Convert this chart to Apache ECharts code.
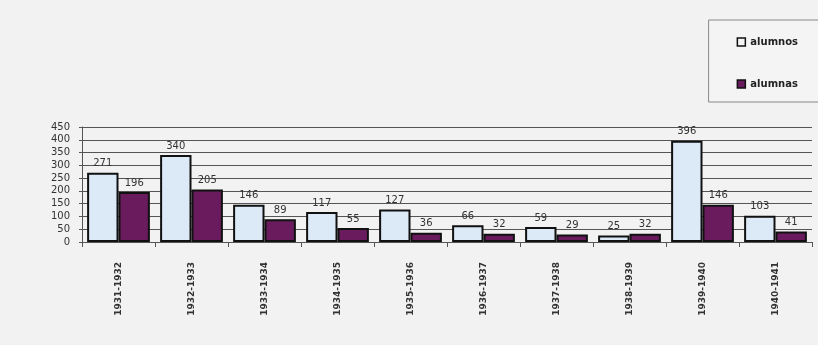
<!DOCTYPE html>
<html>
<head>
<meta charset="utf-8">
<script src="https://cdn.jsdelivr.net/npm/echarts@6/dist/echarts.min.js"></script>
<style>
  html, body { margin: 0; padding: 0; background: #f2f2f2; }
  #chart { width: 818px; height: 345px; }
</style>
</head>
<body>
<div id="chart"></div>
<script>
var cursos = ['1931-1932', '1932-1933', '1933-1934', '1934-1935', '1935-1936',
    '1936-1937', '1937-1938', '1938-1939', '1939-1940', '1940-1941'];
var alumnos = [271, 340, 146, 117, 127, 66, 59, 25, 396, 103];
var alumnas = [196, 205, 89, 55, 36, 32, 29, 32, 146, 41];

var chart = echarts.init(document.getElementById('chart'));

// etiqueta de valor encima de cada barra
var etiqueta = {
    show: true,
    position: 'top',
    distance: 4,
    color: '#333',
    fontSize: 10,
    fontFamily: 'DejaVu Sans'
};

chart.setOption({
    backgroundColor: '#f2f2f2',
    animation: false,
    legend: {
        orient: 'vertical',
        right: -4,
        top: 20,
        padding: [17, 24, 13, 28],
        itemGap: 32,
        itemWidth: 8,
        itemHeight: 8,
        borderColor: '#888',
        borderWidth: 1,
        backgroundColor: '#f4f4f4',
        textStyle: { fontSize: 10, fontWeight: 'bold', color: '#222', fontFamily: 'DejaVu Sans' },
        data: [
            { name: 'alumnos', icon: 'rect', itemStyle: { color: '#f4f4f4', borderColor: '#111', borderWidth: 1.5 } },
            { name: 'alumnas', icon: 'rect', itemStyle: { color: '#6a1b5d', borderColor: '#111', borderWidth: 1.5 } }
        ]
    },
    grid: { left: 82, right: 6, top: 127, bottom: 103 },
    xAxis: {
        type: 'category',
        data: cursos,
        axisLine: { lineStyle: { color: '#555', width: 1 } },
        axisTick: { show: true, length: 5, lineStyle: { color: '#555' } },
        axisLabel: {
            rotate: 90,
            margin: 20,
            fontSize: 9,
            fontWeight: 'bold',
            color: '#333',
            fontFamily: 'DejaVu Sans'
        }
    },
    yAxis: {
        type: 'value',
        min: 0,
        max: 450,
        interval: 50,
        axisLine: { show: true, lineStyle: { color: '#555' } },
        axisTick: { show: true, length: 3, lineStyle: { color: '#555' } },
        axisLabel: { fontSize: 10, color: '#333', margin: 12, fontFamily: 'DejaVu Sans' },
        splitLine: { lineStyle: { color: '#555', width: 1 } }
    },
    series: [
        {
            name: 'alumnos',
            type: 'bar',
            data: alumnos,
            barGap: '0%',
            barCategoryGap: '14%',
            itemStyle: { color: '#dce9f7', borderColor: '#111', borderWidth: 2 },
            label: etiqueta
        },
        {
            name: 'alumnas',
            type: 'bar',
            data: alumnas,
            itemStyle: { color: '#6a1b5d', borderColor: '#111', borderWidth: 2 },
            label: etiqueta
        }
    ]
});
</script>
</body>
</html>
